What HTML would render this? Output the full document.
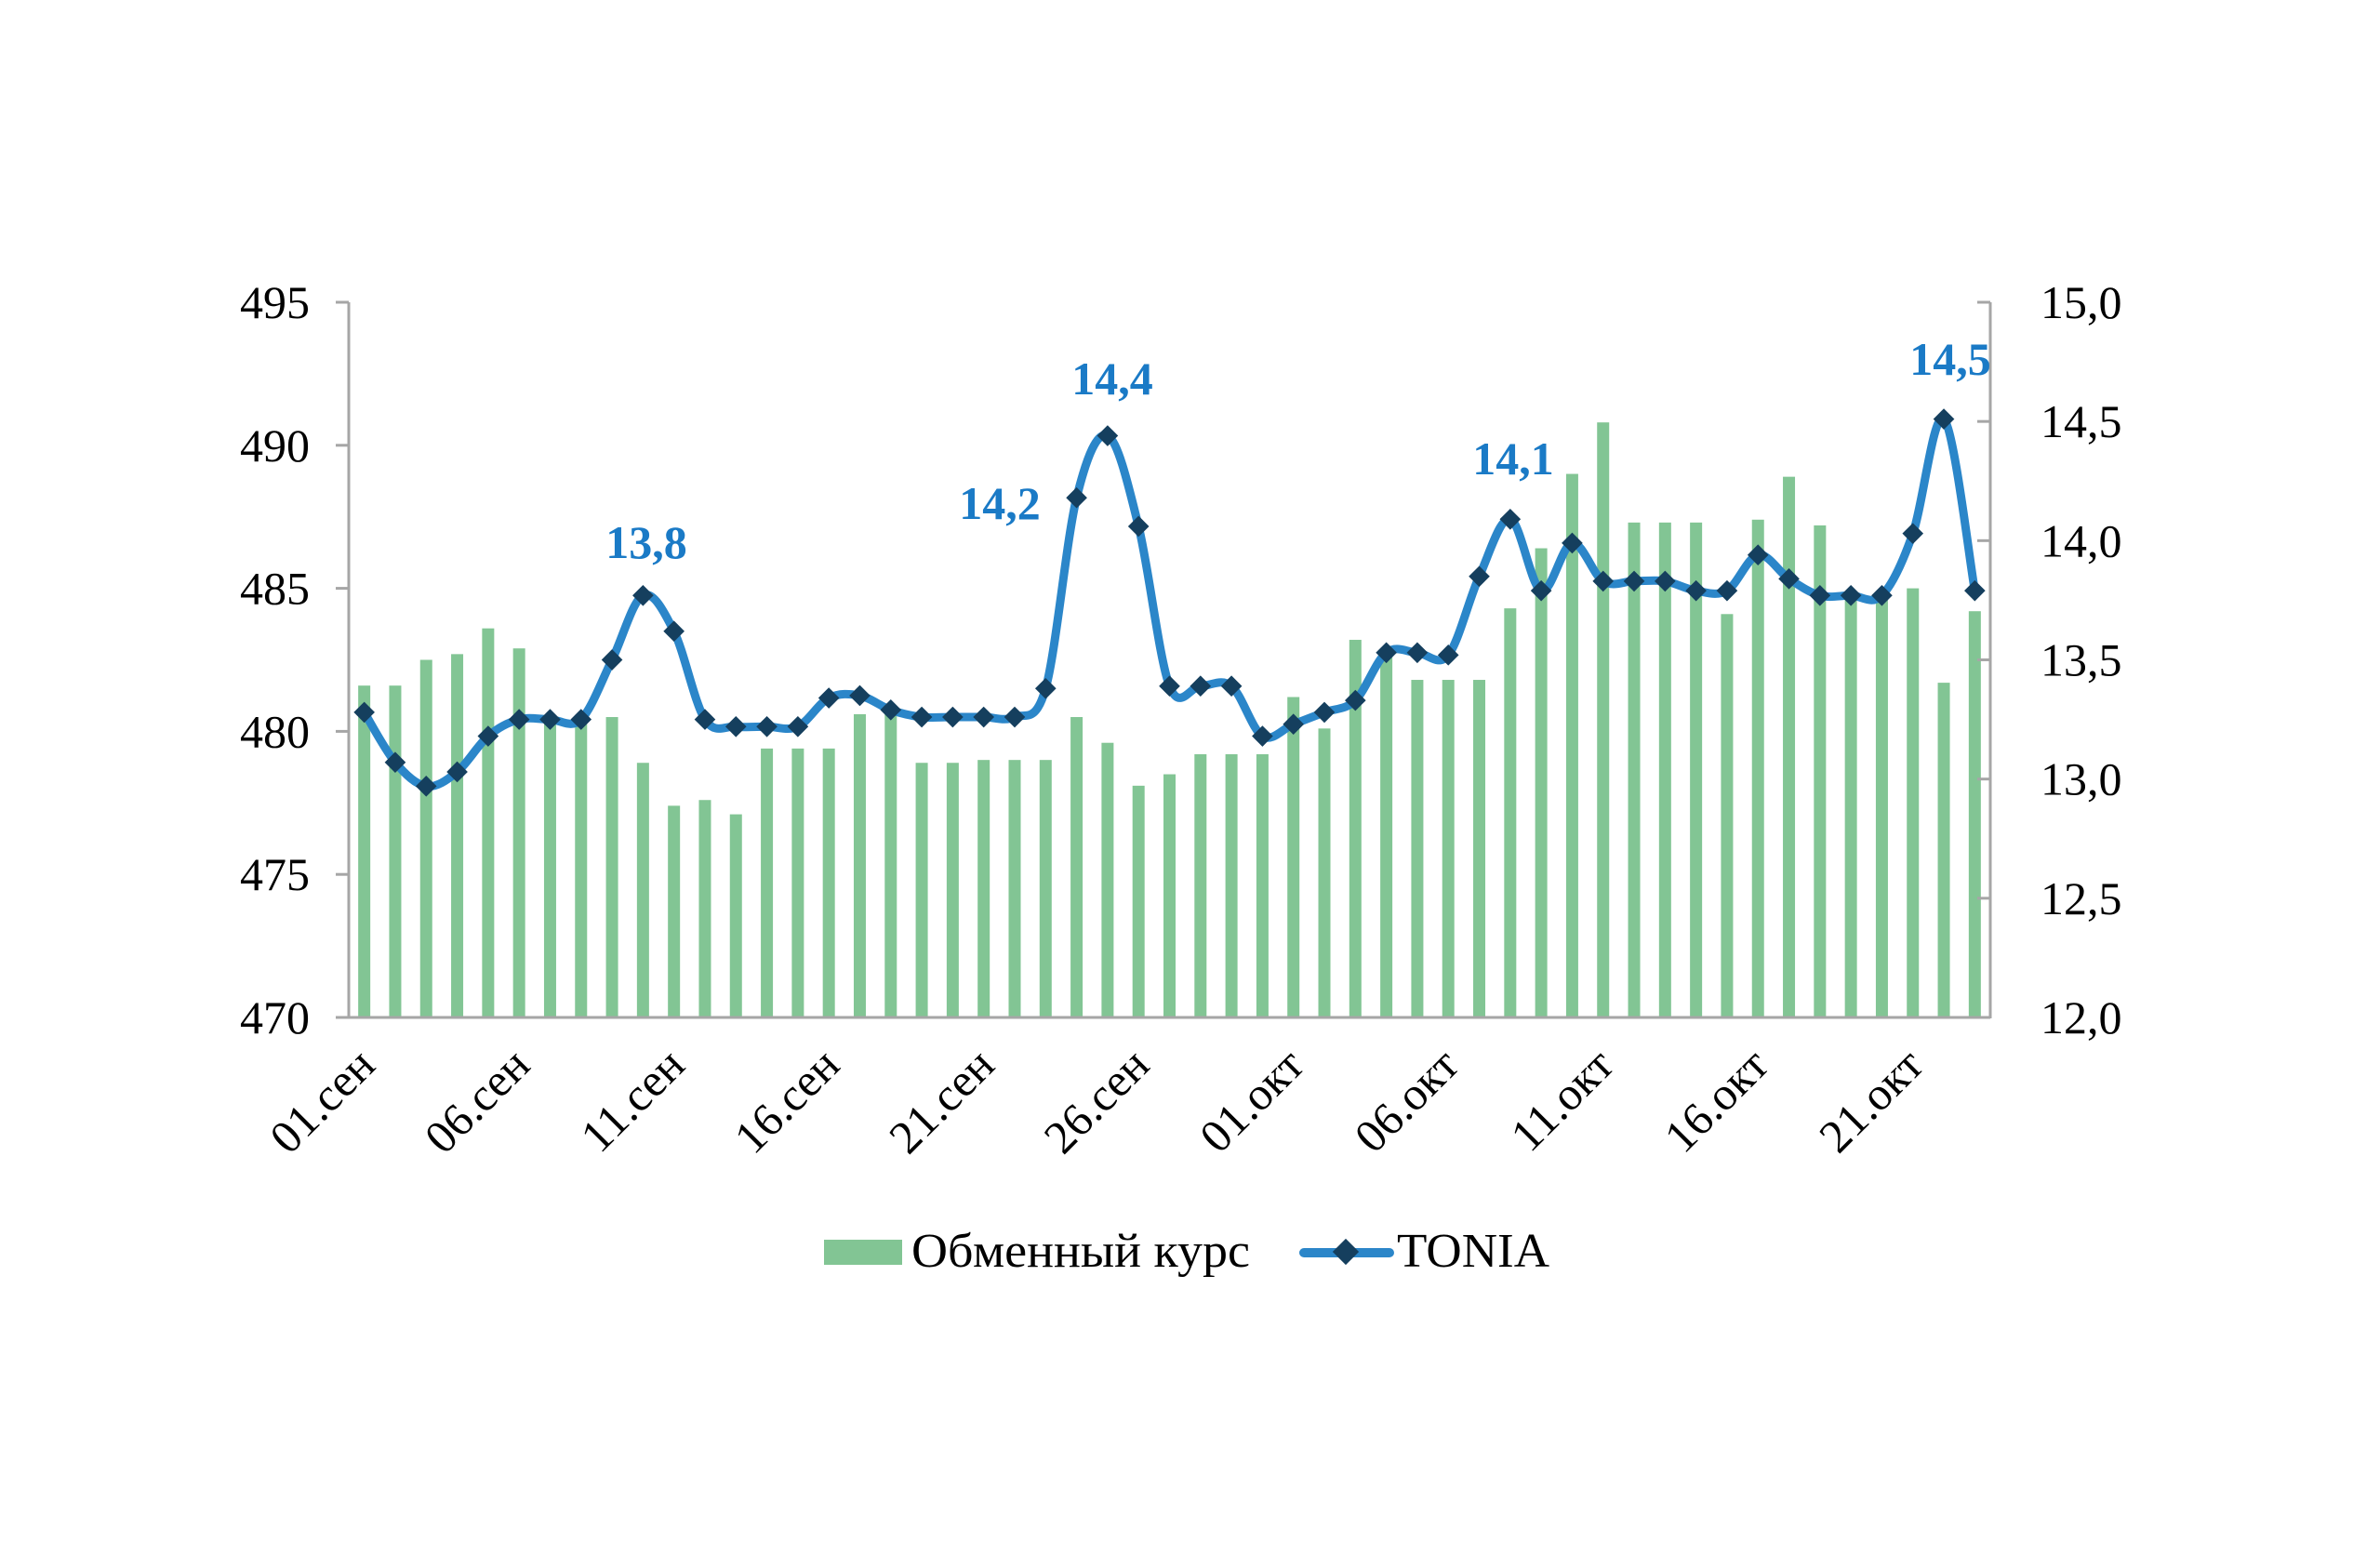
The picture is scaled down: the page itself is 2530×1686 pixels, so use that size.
<!DOCTYPE html>
<html><head><meta charset="utf-8"><style>
html,body{margin:0;padding:0;background:#fff;}
svg{display:block;}
text{font-family:"Liberation Serif",serif;}
</style></head><body>
<svg id="c" width="2530" height="1686" viewBox="0 0 2530 1686" xmlns="http://www.w3.org/2000/svg">
<rect width="2530" height="1686" fill="#fff"/>
<g id="bars"></g>
<g stroke="#a6a6a6" stroke-width="3" fill="none">
<line x1="375" y1="325" x2="375" y2="1095"/>
<line x1="2140" y1="325" x2="2140" y2="1095"/>
<line x1="362" y1="1094" x2="2140" y2="1094"/>
<g id="ticks"></g>
</g>
<path id="line" fill="none" stroke="#2b86c9" stroke-width="9" stroke-linejoin="round" stroke-linecap="round"/>
<g id="marks" fill="#153f5e"></g>
<g id="labels" font-size="50" fill="#000"></g>
<g font-size="50" font-weight="bold" fill="#1a7ac6" text-anchor="middle">
<text x="695" y="600">13,8</text>
<text x="1075" y="558">14,2</text>
<text x="1196" y="424">14,4</text>
<text x="1627" y="510">14,1</text>
<text x="2097" y="403">14,5</text>
</g>
<rect x="886" y="1333" width="84" height="27" fill="#82c594"/>
<text x="980" y="1362" font-size="52" textLength="364" lengthAdjust="spacingAndGlyphs">Обменный курс</text>
<line x1="1402" y1="1347" x2="1494" y2="1347" stroke="#2b86c9" stroke-width="10" stroke-linecap="round"/>
<rect x="1437" y="1336" width="20" height="20" fill="#153f5e" transform="rotate(45 1447 1346)"/>
<text x="1502" y="1362" font-size="52" textLength="164" lengthAdjust="spacingAndGlyphs">TONIA</text>
</svg>
<script>
var ns="http://www.w3.org/2000/svg";
var bars=[481.6,481.6,482.5,482.7,483.6,482.9,480.4,480.4,480.5,478.9,477.4,477.6,477.1,479.4,479.4,479.4,480.6,480.6,478.9,478.9,479.0,479.0,479.0,480.5,479.6,478.1,478.5,479.2,479.2,479.2,
481.2,480.1,483.2,482.7,481.8,481.8,481.8,484.3,486.4,489.0,490.8,487.3,487.3,487.3,484.1,487.4,488.9,487.2,484.9,484.9,485.0,481.7,484.2];
var ton=[13.28,13.07,12.97,13.03,13.18,13.25,13.25,13.25,13.50,13.77,13.62,13.25,13.22,13.22,13.22,13.34,13.35,13.29,13.26,13.26,13.26,13.26,13.38,14.18,14.44,14.06,13.39,13.39,13.39,13.18,
13.23,13.28,13.33,13.53,13.53,13.52,13.85,14.09,13.79,13.99,13.83,13.83,13.83,13.79,13.79,13.94,13.84,13.77,13.77,13.77,14.03,14.51,13.79];
var X0=375,X1=2140,Y0=325,Y1=1094,N=53,cw=(X1-X0)/N;
function yl(v){return Y1-(v-470)/25*(Y1-Y0);}
function yr(v){return Y1-(v-12)/3*(Y1-Y0);}
function el(t,a,p){var e=document.createElementNS(ns,t);for(var k in a)e.setAttribute(k,a[k]);p.appendChild(e);return e;}
var gb=document.getElementById("bars");
for(var i=0;i<N;i++){var cx=X0+cw*(i+0.5),y=yl(bars[i]);el("rect",{x:cx-6.5,y:y,width:13,height:Y1-y,fill:"#82c594"},gb);}
var gt=document.getElementById("ticks"),gl=document.getElementById("labels");
for(var j=0;j<=5;j++){var y=Y0+j*(Y1-Y0)/5;el("line",{x1:361,y1:y,x2:375,y2:y},gt);
var t=el("text",{x:333,y:y+17,"text-anchor":"end"},gl);t.textContent=String(495-5*j);}
for(var j=0;j<=6;j++){var y=Y0+j*(Y1-Y0)/6;el("line",{x1:2126,y1:y,x2:2140,y2:y},gt);
var t2=el("text",{x:2194,y:y+17},gl);t2.textContent=(15-0.5*j).toFixed(1).replace(".",",");}
var xl=["01.сен","06.сен","11.сен","16.сен","21.сен","26.сен","01.окт","06.окт","11.окт","16.окт","21.окт"];
for(var k=0;k<11;k++){var cx=X0+cw*(k*5+0.5)+14,cy=1148;var t=el("text",{x:cx,y:cy,"text-anchor":"end","font-size":"50",transform:"rotate(-45 "+cx+" "+cy+")"},gl);t.textContent=xl[k];}
var P=[];for(var i=0;i<N;i++)P.push([X0+cw*(i+0.5),yr(ton[i])]);
var d="M"+P[0][0]+","+P[0][1];
for(var i=0;i<N-1;i++){var p0=P[Math.max(i-1,0)],p1=P[i],p2=P[i+1],p3=P[Math.min(i+2,N-1)],s=6;
d+=" C"+(p1[0]+(p2[0]-p0[0])/s)+","+(p1[1]+(p2[1]-p0[1])/s)+" "+(p2[0]-(p3[0]-p1[0])/s)+","+(p2[1]-(p3[1]-p1[1])/s)+" "+p2[0]+","+p2[1];}
document.getElementById("line").setAttribute("d",d);
var gm=document.getElementById("marks");
for(var i=0;i<N;i++){el("rect",{x:P[i][0]-8,y:P[i][1]-8,width:16,height:16,transform:"rotate(45 "+P[i][0]+" "+P[i][1]+")"},gm);}
</script>
</body></html>
